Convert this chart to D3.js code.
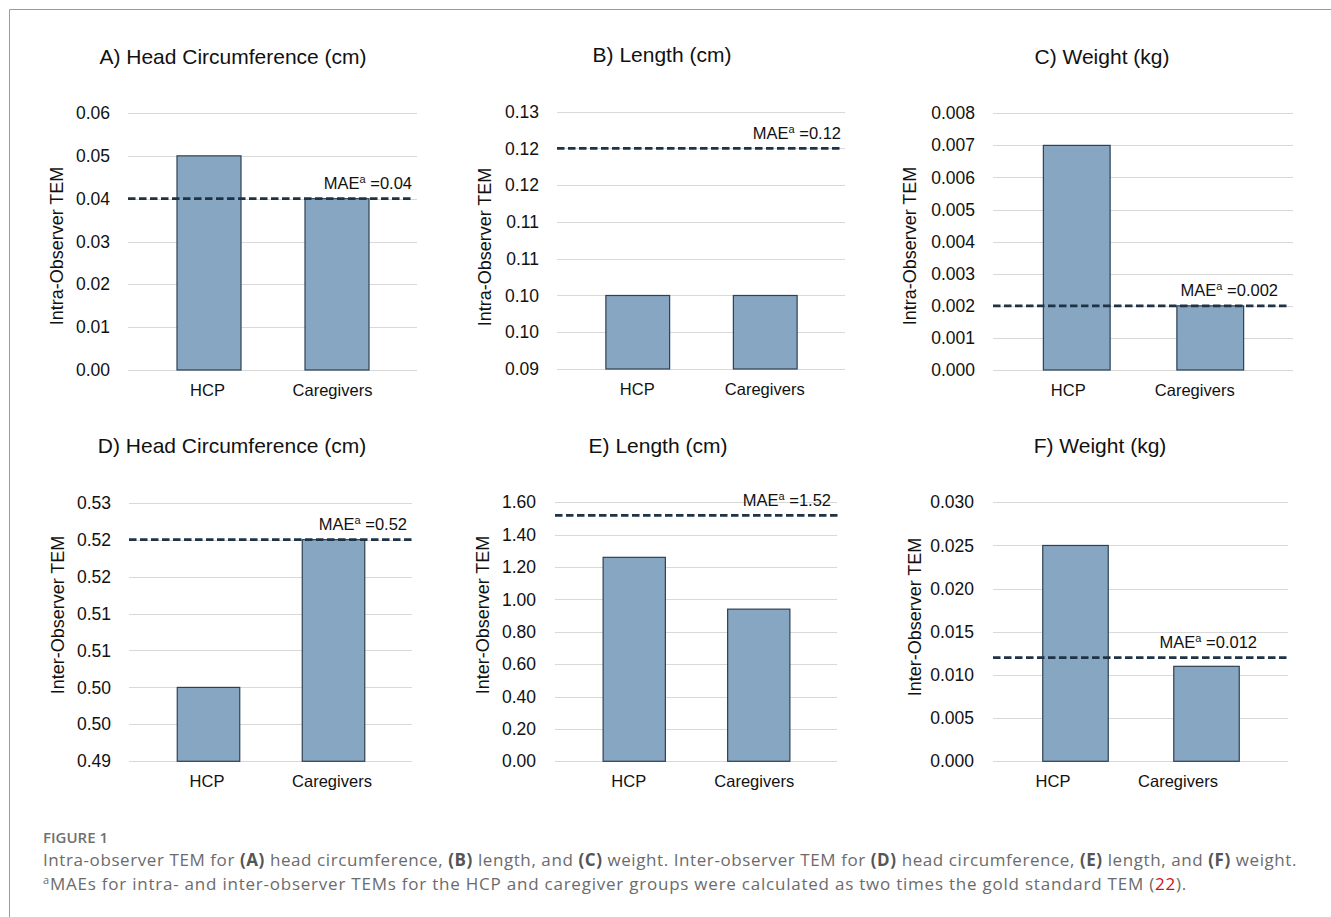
<!DOCTYPE html>
<html>
<head>
<meta charset="utf-8">
<script src="https://cdn.jsdelivr.net/npm/d3@7"></script>
<style>
  html, body { margin: 0; padding: 0; background: #ffffff; }
  svg { display: block; }
</style>
</head>
<body>
<svg id="chart" width="1331" height="917"></svg>
<script>
// ---------------- DATA ----------------
const categories = ["HCP", "Caregivers"];
const panelTitles = [
  "A) Head Circumference (cm)", "B) Length (cm)", "C) Weight (kg)",
  "D) Head Circumference (cm)", "E) Length (cm)", "F) Weight (kg)"
];
const yAxisTitles = [
  "Intra-Observer TEM", "Intra-Observer TEM", "Intra-Observer TEM",
  "Inter-Observer TEM", "Inter-Observer TEM", "Inter-Observer TEM"
];
const valuesA = [0.05, 0.04];
const valuesB = [0.105, 0.105];
const valuesC = [0.007, 0.002];
const valuesD = [0.505, 0.525];
const valuesE = [1.26, 0.94];
const valuesF = [0.025, 0.011];
const maeValues = [0.04, 0.125, 0.002, 0.525, 1.52, 0.012];
const maeLabels = ["0.04", "0.12", "0.002", "0.52", "1.52", "0.012"];

const tickValuesA = [0, 0.01, 0.02, 0.03, 0.04, 0.05, 0.06];
const tickLabelsA = ["0.00", "0.01", "0.02", "0.03", "0.04", "0.05", "0.06"];
const tickValuesB = [0.095, 0.10, 0.105, 0.11, 0.115, 0.12, 0.125, 0.13];
const tickLabelsB = ["0.09", "0.10", "0.10", "0.11", "0.11", "0.12", "0.12", "0.13"];
const tickValuesC = [0, 0.001, 0.002, 0.003, 0.004, 0.005, 0.006, 0.007, 0.008];
const tickLabelsC = ["0.000", "0.001", "0.002", "0.003", "0.004", "0.005", "0.006", "0.007", "0.008"];
const tickValuesD = [0.495, 0.50, 0.505, 0.51, 0.515, 0.52, 0.525, 0.53];
const tickLabelsD = ["0.49", "0.50", "0.50", "0.51", "0.51", "0.52", "0.52", "0.53"];
const tickValuesE = [0, 0.2, 0.4, 0.6, 0.8, 1.0, 1.2, 1.4, 1.6];
const tickLabelsE = ["0.00", "0.20", "0.40", "0.60", "0.80", "1.00", "1.20", "1.40", "1.60"];
const tickValuesF = [0, 0.005, 0.010, 0.015, 0.020, 0.025, 0.030];
const tickLabelsF = ["0.000", "0.005", "0.010", "0.015", "0.020", "0.025", "0.030"];

const seriesValues = [valuesA, valuesB, valuesC, valuesD, valuesE, valuesF];
const tickValueSets = [tickValuesA, tickValuesB, tickValuesC, tickValuesD, tickValuesE, tickValuesF];
const tickLabelSets = [tickLabelsA, tickLabelsB, tickLabelsC, tickLabelsD, tickLabelsE, tickLabelsF];

// ---------------- LAYOUT (pixels) ----------------
const layouts = [
  { grid: [128, 417], yr: [370, 113],   tickX: 110, yLabX: 57,  yLabY: 246, titleX: 233,  titleY: 57,  catY: 390, catDx: [-1, -4],  dash: [128, 413],  maeX: 412 },
  { grid: [557, 845], yr: [369, 111.7], tickX: 539, yLabX: 485, yLabY: 247, titleX: 662,  titleY: 55,  catY: 389, catDx: [0, 0],    dash: [557, 842],  maeX: 841 },
  { grid: [993, 1293], yr: [370, 113.3], tickX: 975, yLabX: 910, yLabY: 246, titleX: 1102, titleY: 57,  catY: 390, catDx: [-8, -15], dash: [993, 1288], maeX: 1278 },
  { grid: [129, 412], yr: [761.3, 502.7], tickX: 111, yLabX: 58,  yLabY: 615, titleX: 232,  titleY: 446, catY: 781, catDx: [-1, -1],  dash: [129, 413],  maeX: 407 },
  { grid: [555, 837], yr: [761.3, 502.3], tickX: 536, yLabX: 483, yLabY: 615, titleX: 658,  titleY: 446, catY: 781, catDx: [-5, -4],  dash: [555, 838],  maeX: 831 },
  { grid: [993, 1288], yr: [761.3, 502.3], tickX: 974, yLabX: 915, yLabY: 617, titleX: 1100, titleY: 446, catY: 781, catDx: [-22, -28], dash: [993, 1288], maeX: 1257 }
];

const FONT = "'Liberation Sans', Arial, sans-serif";
const BAR_FILL = "#87a6c2";
const BAR_STROKE = "#2e4153";
const MAE_COLOR = "#1f3347";
const GRID = "#d9d9d9";
const TEXT = "#111111";

const svg = d3.select("#chart");

// frame
svg.append("path")
  .attr("d", "M9.5,917 L9.5,9.5 L1331,9.5")
  .attr("fill", "none")
  .attr("stroke", "#9a9a9a")
  .attr("stroke-width", 1);

layouts.forEach((L, p) => {
  const g = svg.append("g").attr("class", "panel-" + p);
  const ticks = tickValueSets[p];
  const labels = tickLabelSets[p];
  const y = d3.scaleLinear()
    .domain([ticks[0], ticks[ticks.length - 1]])
    .range(L.yr);
  const x = d3.scaleBand()
    .domain(categories)
    .range([L.grid[0] + 16.5, L.grid[1] - 16.5])
    .paddingInner(0.5)
    .paddingOuter(0.25);

  // gridlines
  g.append("g").selectAll("line")
    .data(ticks)
    .join("line")
    .attr("x1", L.grid[0]).attr("x2", L.grid[1])
    .attr("y1", d => Math.round(y(d)) + 0.5)
    .attr("y2", d => Math.round(y(d)) + 0.5)
    .attr("stroke", GRID)
    .attr("stroke-width", 1);

  // y axis
  const yAxis = d3.axisLeft(y)
    .tickValues(ticks)
    .tickFormat((d, i) => labels[i])
    .tickSize(0)
    .tickPadding(0);
  const ya = g.append("g")
    .attr("transform", `translate(${L.tickX},0)`)
    .call(yAxis);
  ya.select(".domain").remove();
  ya.selectAll("text")
    .attr("font-family", FONT)
    .attr("font-size", 17.5)
    .attr("fill", TEXT);

  // bars
  g.append("g").selectAll("rect")
    .data(categories.map((c, i) => ({ c, v: seriesValues[p][i] })))
    .join("rect")
    .attr("x", d => x(d.c) + 0.5)
    .attr("y", d => y(d.v))
    .attr("width", x.bandwidth())
    .attr("height", d => y(ticks[0]) - y(d.v))
    .attr("fill", BAR_FILL)
    .attr("stroke", BAR_STROKE)
    .attr("stroke-width", 1.2);

  // x axis (category labels)
  const xAxis = d3.axisBottom(x).tickSize(0).tickPadding(0);
  const xa = g.append("g")
    .attr("transform", `translate(0,${L.catY})`)
    .call(xAxis);
  xa.select(".domain").remove();
  xa.selectAll("text")
    .attr("font-family", FONT)
    .attr("font-size", 16.5)
    .attr("fill", TEXT)
    .attr("dy", "0.35em")
    .attr("dx", (d, i) => L.catDx[i]);

  // MAE dashed line
  g.append("line")
    .attr("x1", L.dash[0]).attr("x2", L.dash[1])
    .attr("y1", y(maeValues[p])).attr("y2", y(maeValues[p]))
    .attr("stroke", MAE_COLOR)
    .attr("stroke-width", 2.75)
    .attr("stroke-dasharray", "7.5,3.5");

  // MAE label
  const mt = g.append("text")
    .attr("x", L.maeX)
    .attr("y", y(maeValues[p]) - 9.5)
    .attr("text-anchor", "end")
    .attr("font-family", FONT)
    .attr("font-size", 16.5)
    .attr("fill", TEXT);
  mt.append("tspan").text("MAE");
  mt.append("tspan").attr("font-size", 11).attr("dy", -6).text("a");
  mt.append("tspan").attr("dy", 6).text(" =" + maeLabels[p]);

  // y axis title
  g.append("text")
    .attr("transform", `translate(${L.yLabX},${L.yLabY}) rotate(-90)`)
    .attr("text-anchor", "middle")
    .attr("dy", "0.35em")
    .attr("font-family", FONT)
    .attr("font-size", 18)
    .attr("fill", TEXT)
    .text(yAxisTitles[p]);

  // panel title
  g.append("text")
    .attr("x", L.titleX)
    .attr("y", L.titleY)
    .attr("text-anchor", "middle")
    .attr("dy", "0.35em")
    .attr("font-family", FONT)
    .attr("font-size", 21)
    .attr("fill", TEXT)
    .text(panelTitles[p]);
});

// ---------------- CAPTION ----------------
const CAP_FONT = "'Open Sans', 'Noto Sans', sans-serif";
const CAP_COLOR = "#6b6b6b";
svg.append("text")
  .attr("x", 43).attr("y", 843)
  .attr("font-family", CAP_FONT)
  .attr("font-size", 15)
  .attr("font-weight", 600)
  .attr("fill", "#707070")
  .text("FIGURE 1");

const captionLine1 = [
  ["Intra-observer TEM for ", false], ["(A)", true], [" head circumference, ", false],
  ["(B)", true], [" length, and ", false], ["(C)", true], [" weight. Inter-observer TEM for ", false],
  ["(D)", true], [" head circumference, ", false], ["(E)", true], [" length, and ", false],
  ["(F)", true], [" weight.", false]
];
const l1 = svg.append("text")
  .attr("x", 43).attr("y", 866)
  .attr("font-family", CAP_FONT)
  .attr("font-size", 17)
  .attr("fill", CAP_COLOR);
captionLine1.forEach(([t, b]) => {
  l1.append("tspan")
    .attr("font-weight", b ? 700 : 400)
    .attr("fill", b ? "#555555" : CAP_COLOR)
    .text(t);
});

const l2 = svg.append("text")
  .attr("x", 43).attr("y", 890)
  .attr("font-family", CAP_FONT)
  .attr("font-size", 17)
  .attr("fill", CAP_COLOR);
l2.append("tspan").attr("font-size", 11).attr("dy", -6).text("a");
l2.append("tspan").attr("dy", 6).text("MAEs for intra- and inter-observer TEMs for the HCP and caregiver groups were calculated as two times the gold standard TEM (");
l2.append("tspan").attr("fill", "#d0101e").text("22");
l2.append("tspan").text(").");

// stretch caption lines to the reference widths via letter-spacing
function fitWidth(sel, target) {
  const node = sel.node();
  const w = node.getComputedTextLength();
  const n = node.textContent.length;
  if (n > 1 && w > 0) {
    sel.attr("letter-spacing", ((target - w) / n).toFixed(3));
  }
}
fitWidth(l1, 1254);
fitWidth(l2, 1144);
</script>
</body>
</html>
